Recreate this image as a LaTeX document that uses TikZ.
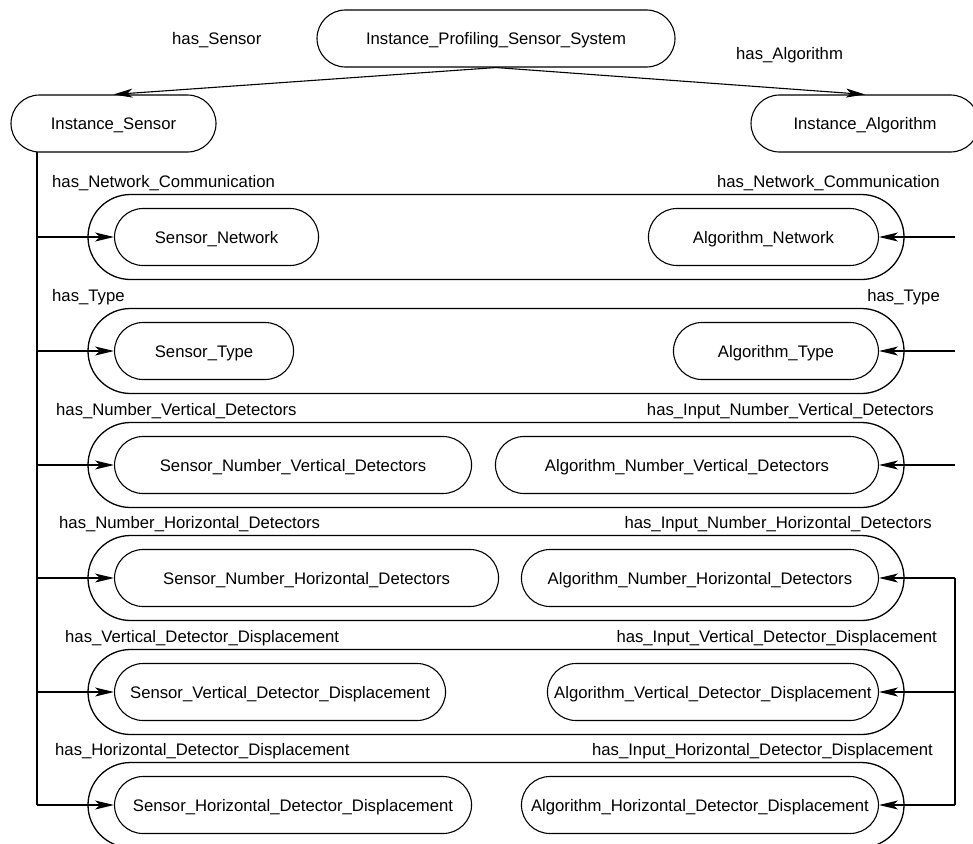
\documentclass[tikz,border=0pt]{standalone}
\usepackage{fontspec}
\setmainfont{Liberation Sans}
\usetikzlibrary{arrows.meta}
\newcommand\diagfont{\fontsize{16.7pt}{20pt}\selectfont}
\begin{document}
\begin{tikzpicture}[x=1pt,y=-1pt,
  capsule/.style={draw, line width=1.1pt, rectangle, rounded corners=28.5pt,
    minimum height=57pt, inner sep=0pt, font=\diagfont,
    text height=12pt, text depth=0pt},
  group/.style={draw, line width=1.3pt, rectangle, rounded corners=42.5pt,
    minimum height=85pt, minimum width=816pt, inner sep=0pt},
  rel/.style={font=\diagfont, inner sep=0pt},
  link/.style={line width=1.1pt},
  arr/.style={line width=1.1pt, -{Stealth[length=19pt,width=9pt,inset=5pt]}}]
\path[use as bounding box, clip] (0,0) rectangle (973,843);

% top level instances
\node[capsule, minimum width=358pt] (sys) at (496,38.5) {Instance\_Profiling\_Sensor\_System};
\node[capsule, minimum width=205pt] (isensor) at (113.5,123.5) {Instance\_Sensor};
\node[capsule, minimum width=228pt] (ialgo) at (865,123.5) {Instance\_Algorithm};
\node[rel, anchor=base west] (lsensor) at (172,45) {has\_Sensor};
\node[rel, anchor=base west] (lalgo) at (736,59.5) {has\_Algorithm};
\draw[arr] (sys.south) -- (isensor.north);
\draw[arr] (sys.south) -- (ialgo.north);

% property groups
\foreach \i/\y in {1/237,2/351,3/465,4/578,5/692,6/805}{
  \node[group] (g\i) at (496,\y) {};
}

% sensor side
\node[capsule, anchor=west, minimum width=204pt] (s1) at (114,237) {Sensor\_Network};
\node[capsule, anchor=west, minimum width=179pt] (s2) at (114,351) {Sensor\_Type};
\node[capsule, anchor=west, minimum width=357pt] (s3) at (114,465) {Sensor\_Number\_Vertical\_Detectors};
\node[capsule, anchor=west, minimum width=384pt] (s4) at (114,578) {Sensor\_Number\_Horizontal\_Detectors};
\node[capsule, anchor=west, minimum width=331pt] (s5) at (114,692) {Sensor\_Vertical\_Detector\_Displacement};
\node[capsule, anchor=west, minimum width=357pt] (s6) at (114,805) {Sensor\_Horizontal\_Detector\_Displacement};

% algorithm side
\node[capsule, anchor=east, minimum width=230pt] (a1) at (879,237) {Algorithm\_Network};
\node[capsule, anchor=east, minimum width=205pt] (a2) at (879,351) {Algorithm\_Type};
\node[capsule, anchor=east, minimum width=383pt] (a3) at (879,465) {Algorithm\_Number\_Vertical\_Detectors};
\node[capsule, anchor=east, minimum width=357pt] (a4) at (879,578) {Algorithm\_Number\_Horizontal\_Detectors};
\node[capsule, anchor=east, minimum width=331pt] (a5) at (879,692) {Algorithm\_Vertical\_Detector\_Displacement};
\node[capsule, anchor=east, minimum width=357pt] (a6) at (879,805) {Algorithm\_Horizontal\_Detector\_Displacement};

% relation labels
\node[rel, anchor=base west] (ls1) at (52,187) {has\_Network\_Communication};
\node[rel, anchor=base west] (ls2) at (52,301) {has\_Type};
\node[rel, anchor=base west] (ls3) at (56,415) {has\_Number\_Vertical\_Detectors};
\node[rel, anchor=base west] (ls4) at (59,528) {has\_Number\_Horizontal\_Detectors};
\node[rel, anchor=base west] (ls5) at (65,642) {has\_Vertical\_Detector\_Displacement};
\node[rel, anchor=base west] (ls6) at (55,755) {has\_Horizontal\_Detector\_Displacement};
\node[rel, anchor=base east] (la1) at (940,187) {has\_Network\_Communication};
\node[rel, anchor=base east] (la2) at (940,301) {has\_Type};
\node[rel, anchor=base east] (la3) at (934,415) {has\_Input\_Number\_Vertical\_Detectors};
\node[rel, anchor=base east] (la4) at (932,528) {has\_Input\_Number\_Horizontal\_Detectors};
\node[rel, anchor=base east] (la5) at (937,642) {has\_Input\_Vertical\_Detector\_Displacement};
\node[rel, anchor=base east] (la6) at (933,755) {has\_Input\_Horizontal\_Detector\_Displacement};

% sensor trunk
\coordinate (ttop) at (37,152);
\coordinate (tbot) at (37,805);
\draw[link] (ttop) -- (tbot);
\foreach \i in {1,...,6}{
  \draw[arr] (ttop |- s\i.west) -- (s\i.west);
}

% algorithm feeds
\coordinate (rtop) at (955,578);
\coordinate (rbot) at (955,805);
\draw[link] (rtop) -- (rbot);
\foreach \i in {1,...,6}{
  \draw[arr] (rtop |- a\i.east) -- (a\i.east);
}
\end{tikzpicture}
\end{document}
